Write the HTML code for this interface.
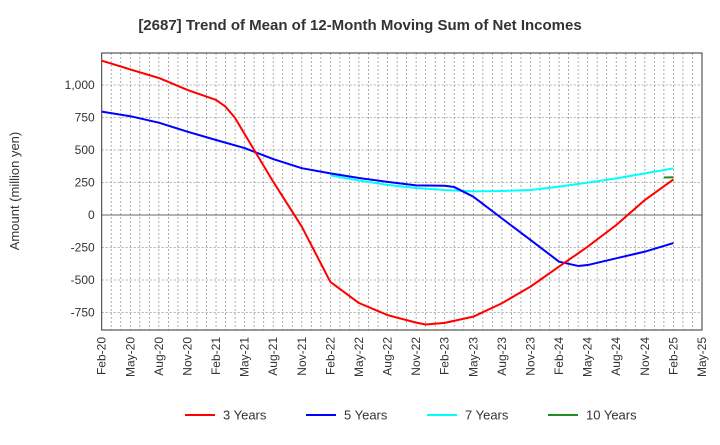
<!DOCTYPE html>
<html><head><meta charset="utf-8"><style>
body{margin:0;background:#fff;font-family:"Liberation Sans",sans-serif}
svg text{font-family:"Liberation Sans",sans-serif}
</style></head><body>
<svg width="720" height="440" id="chart">
<text x="360" y="30" text-anchor="middle" font-size="15" font-weight="bold" fill="#333">[2687]  Trend of Mean of 12-Month Moving Sum of Net Incomes</text>
<text transform="translate(19,191) rotate(-90)" text-anchor="middle" font-size="13" fill="#333">Amount (million yen)</text>
<g id="grid"></g>
<g id="axes"></g>
<g id="series"></g>
<g id="legend"></g>
</svg>
<script>
const xLabels=["Feb-20","May-20","Aug-20","Nov-20","Feb-21","May-21","Aug-21","Nov-21","Feb-22","May-22","Aug-22","Nov-22","Feb-23","May-23","Aug-23","Nov-23","Feb-24","May-24","Aug-24","Nov-24","Feb-25","May-25"];
const yTicks=[-750,-500,-250,0,250,500,750,1000];
const yTickLabels=["-750","-500","-250","0","250","500","750","1,000"];
// month index since Feb-20
const red3M=[0,3,6,9,12,13,14,15,16,18,21,24,27,30,33,34,36,39,42,45,48,51,54,57,60];
const red3V=[1187,1120,1054,962,885,833,746,623,500,256,-90,-515,-677,-770,-828,-842,-830,-782,-679,-551,-397,-244,-77,115,274];
const blue5M=[0,3,6,9,12,15,18,21,24,27,30,33,36,37,39,42,45,48,50,51,54,57,60];
const blue5V=[795,760,710,641,577,515,430,360,320,285,255,228,225,215,141,-26,-192,-359,-392,-385,-333,-282,-216];
const cyan7M=[24,27,30,33,36,39,42,45,48,51,54,57,60];
const cyan7V=[305,265,232,208,192,182,185,192,218,249,282,320,359];
const green10M=[59,60];
const green10V=[288,290];
const X0=101.7,X1=702,Y0=53,Y1=330;
const xs=m=>X0+m*(X1-X0)/63;
const ys=v=>215-v*0.13;
const NS="http://www.w3.org/2000/svg";
function mk(t,a,p){const e=document.createElementNS(NS,t);for(const k in a)e.setAttribute(k,a[k]);p.appendChild(e);return e;}
const grid=document.getElementById('grid'),axes=document.getElementById('axes'),ser=document.getElementById('series'),leg=document.getElementById('legend');
for(let m=1;m<63;m++){const l=mk('line',{x1:xs(m),x2:xs(m),y1:Y0,y2:Y1,stroke:'#999','stroke-dasharray':'2,2','stroke-width':0.8},grid);

}
yTicks.forEach((v,i)=>{const l=mk('line',{x1:X0,x2:X1,y1:ys(v),y2:ys(v),stroke:v===0?'#666':'#999','stroke-dasharray':v===0?'':'2,2','stroke-width':v===0?1:0.8},grid);


const t=mk('text',{x:X0-7,y:ys(v)+4,'text-anchor':'end','font-size':12,fill:'#333'},axes);t.textContent=yTickLabels[i];

});
const fr=mk('rect',{x:X0,y:Y0,width:X1-X0,height:Y1-Y0,fill:'none',stroke:'#333','stroke-width':1},axes);


xLabels.forEach((s,i)=>{const x=xs(i*3);const t=mk('text',{transform:`translate(${x+4},337) rotate(-90)`,'text-anchor':'end','font-size':12,fill:'#333'},axes);t.textContent=s;

});
function line(M,V,c,name){const p=mk('polyline',{points:M.map((m,i)=>xs(m)+','+ys(V[i])).join(' '),fill:'none',stroke:c,'stroke-width':2,'stroke-linejoin':'round'},ser);

}
line(cyan7M,cyan7V,'#00ffff','line-7-years');
line(blue5M,blue5V,'#0000ff','line-5-years');
line(red3M,red3V,'#ff0000','line-3-years');
line(green10M,green10V,'#228b22','line-10-years');
[["3 Years","#ff0000",185],["5 Years","#0000ff",306],["7 Years","#00ffff",427],["10 Years","#228b22",548]].forEach(([n,c,x])=>{
const l=mk('line',{x1:x,x2:x+30,y1:415,y2:415,stroke:c,'stroke-width':2},leg);


const t=mk('text',{x:x+38,y:419.5,'font-size':13,fill:'#333'},leg);t.textContent=n;

});
</script>
</body></html>
